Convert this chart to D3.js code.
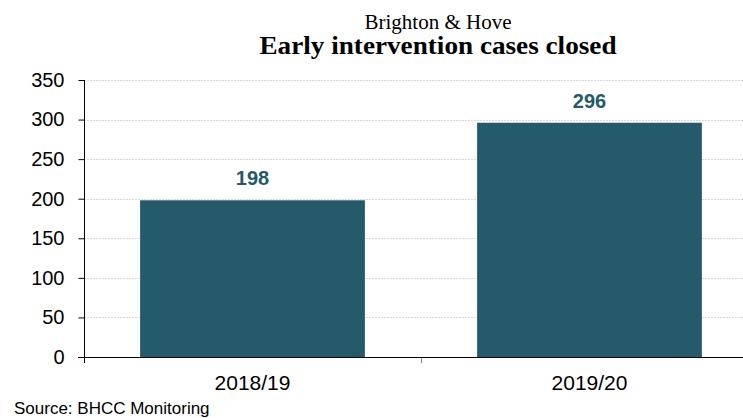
<!DOCTYPE html>
<html><head><meta charset="utf-8">
<script src="https://cdn.jsdelivr.net/npm/d3@7"></script>
<style>body{margin:0;background:#fff}svg{display:block}</style>
</head><body>
<svg id="c" width="743" height="418"></svg>
<script>
const categories = ["2018/19", "2019/20"];
const values = [198, 296];
const yTicks = [0, 50, 100, 150, 200, 250, 300, 350];
const subtitle = "Brighton & Hove";
const title = "Early intervention cases closed";
const source = "Source: BHCC Monitoring";

(function () {
const svg = d3.select("#c");
const mLeft = 84, mBottom = 357, mTop = 80, bandRight = 758, gridRight = 743;
const barColor = "#245a69";
const sans = "Liberation Sans, Arial, sans-serif";
const serif = "Liberation Serif, Georgia, serif";

const x = d3.scaleBand().domain(categories).range([mLeft, bandRight]).paddingInner(0.333).paddingOuter(0.1665);
const y = d3.scaleLinear().domain([0, 350]).range([mBottom, mTop]);

// gridlines
svg.append("g").selectAll("line").data(yTicks.filter(d => d > 0)).join("line")
  .attr("x1", mLeft).attr("x2", gridRight)
  .attr("y1", d => Math.round(y(d)) + 0.5).attr("y2", d => Math.round(y(d)) + 0.5)
  .attr("stroke", "#d9d9d9").attr("stroke-dasharray", "2,1").attr("stroke-width", 1);

// bars
svg.append("g").selectAll("rect").data(values).join("rect")
  .attr("x", (d, i) => x(categories[i]))
  .attr("width", x.bandwidth())
  .attr("y", d => y(d))
  .attr("height", d => mBottom - y(d))
  .attr("fill", barColor);

// value labels
svg.append("g").selectAll("text").data(values).join("text")
  .attr("x", (d, i) => x(categories[i]) + x.bandwidth() / 2)
  .attr("y", d => y(d) - 15)
  .attr("text-anchor", "middle")
  .attr("font-family", sans)
  .attr("font-weight", "bold").attr("font-size", 20)
  .attr("fill", barColor)
  .text(d => d);

// y axis
const yAxis = d3.axisLeft(y).tickValues(yTicks).tickSize(6).tickPadding(14);
const gy = svg.append("g").attr("transform", `translate(${mLeft + 0.5},0)`).call(yAxis);
gy.select(".domain").attr("d", `M0,${mTop}V${mBottom + 6}`).attr("stroke", "#000");
gy.selectAll(".tick line").attr("stroke", "#000");
gy.selectAll(".tick text").attr("font-family", sans).attr("font-size", 20).attr("fill", "#000");

// x axis
svg.append("line").attr("x1", mLeft - 6).attr("x2", gridRight).attr("y1", mBottom + 0.5).attr("y2", mBottom + 0.5).attr("stroke", "#000");
const divX = x(categories[1]) - x.step() * x.paddingInner() / 2;
svg.append("line").attr("x1", Math.round(divX) + 0.5).attr("x2", Math.round(divX) + 0.5)
  .attr("y1", mBottom + 1).attr("y2", mBottom + 6).attr("stroke", "#808080");
svg.append("g").selectAll("text").data(categories).join("text")
  .attr("x", d => x(d) + x.bandwidth() / 2)
  .attr("y", 390)
  .attr("text-anchor", "middle")
  .attr("font-family", sans).attr("font-size", 21)
  .attr("fill", "#000").text(d => d);

// titles
svg.append("text").attr("x", 438).attr("y", 29).attr("text-anchor", "middle")
  .attr("font-family", serif).attr("font-size", 21).attr("fill", "#000").text(subtitle);
svg.append("text").attr("x", 438).attr("y", 54).attr("text-anchor", "middle")
  .attr("font-family", serif).attr("font-weight", "bold").attr("font-size", 25)
  .attr("textLength", 357).attr("lengthAdjust", "spacingAndGlyphs")
  .attr("fill", "#000").text(title);

// source
svg.append("text").attr("x", 14).attr("y", 414)
  .attr("font-family", sans).attr("font-size", 17).attr("fill", "#000").text(source);
})();
</script>
</body></html>
